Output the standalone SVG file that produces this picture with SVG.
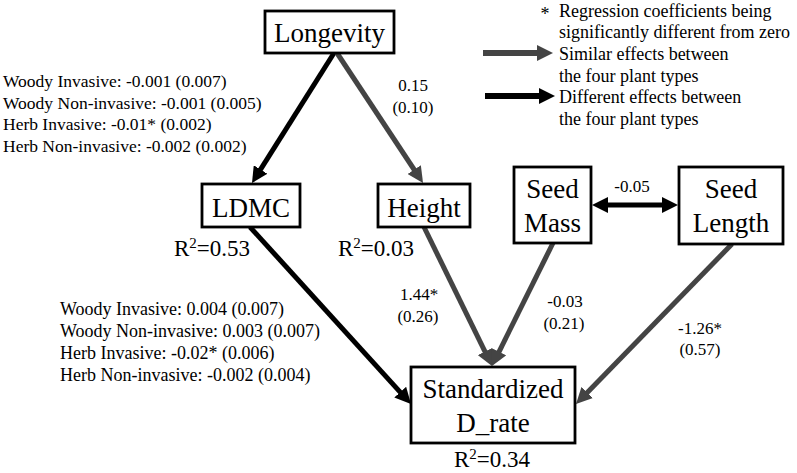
<svg xmlns="http://www.w3.org/2000/svg" width="797" height="473" viewBox="0 0 797 473">
<defs>
<style>
text{font-family:"Liberation Serif","Times New Roman",serif;fill:#000}
.node{font-size:27px;text-anchor:middle}
.box{fill:#fff;stroke:#000;stroke-width:2.8}
.lab{font-size:17.5px}
.lab2{font-size:18px}
.num{font-size:17px;text-anchor:middle}
.leg{font-size:18px}
.r2{font-size:23px}
.blk{stroke:#000;stroke-width:5;fill:none}
.gry{stroke:#444;stroke-width:5;fill:none}
</style>
<marker id="hb" viewBox="0 0 16 16" refX="4" refY="8" markerWidth="16" markerHeight="16" markerUnits="userSpaceOnUse" orient="auto-start-reverse"><path d="M0,0 L16,8 L0,16 z" fill="#000"/></marker>
<marker id="hg" viewBox="0 0 16 16" refX="4" refY="8" markerWidth="16" markerHeight="16" markerUnits="userSpaceOnUse" orient="auto"><path d="M0,0 L16,8 L0,16 z" fill="#444"/></marker>
</defs>
<rect width="797" height="473" fill="#fff"/>

<g id="connectors">
<line class="blk" x1="334" y1="53" x2="258.4" y2="172.9" marker-end="url(#hb)"/>
<line class="gry" x1="337" y1="53" x2="416.4" y2="173" marker-end="url(#hg)"/>
<line class="blk" x1="250" y1="227" x2="402.9" y2="395.1" marker-end="url(#hb)"/>
<line class="gry" x1="424" y1="227" x2="486.7" y2="355.2" marker-end="url(#hg)"/>
<line class="gry" x1="553" y1="243" x2="497.3" y2="355.3" marker-end="url(#hg)"/>
<line class="gry" x1="732" y1="244" x2="584.4" y2="395.4" marker-end="url(#hg)"/>
<line class="blk" x1="604" y1="205" x2="666" y2="205" marker-start="url(#hb)" marker-end="url(#hb)"/>
</g>

<g id="legend">
<text class="leg" x="545" y="20" text-anchor="middle">*</text>
<text class="leg" x="559" y="17">Regression coefficients being</text>
<text class="leg" x="559" y="38">significantly different from zero</text>
<line class="gry" x1="483" y1="53" x2="541" y2="53" marker-end="url(#hg)" style="stroke-width:6"/>
<text class="leg" x="559" y="60">Similar effects between</text>
<text class="leg" x="559" y="82">the four plant types</text>
<line class="blk" x1="485" y1="96" x2="543" y2="96" marker-end="url(#hb)" style="stroke-width:6"/>
<text class="leg" x="559" y="103">Different effects between</text>
<text class="leg" x="559" y="125">the four plant types</text>
</g>

<g id="node-longevity">
<rect class="box" x="265" y="11" width="129" height="42"/>
<text class="node" x="329.5" y="42">Longevity</text>
</g>

<g id="node-ldmc">
<rect class="box" x="202" y="184" width="98" height="43"/>
<text class="node" x="251" y="217">LDMC</text>
<text class="r2" x="174" y="256">R<tspan font-size="15" dy="-8">2</tspan><tspan dy="8">=0.53</tspan></text>
</g>

<g id="node-height">
<rect class="box" x="378" y="184" width="92" height="43"/>
<text class="node" x="424" y="217">Height</text>
<text class="r2" x="338" y="256">R<tspan font-size="15" dy="-8">2</tspan><tspan dy="8">=0.03</tspan></text>
</g>

<g id="node-seedmass">
<rect class="box" x="514" y="167" width="77" height="76"/>
<text class="node" x="552.5" y="198">Seed</text>
<text class="node" x="552.5" y="232">Mass</text>
</g>

<g id="node-seedlength">
<rect class="box" x="679" y="167" width="104" height="77"/>
<text class="node" x="731" y="198">Seed</text>
<text class="node" x="731" y="232">Length</text>
</g>

<g id="node-drate">
<rect class="box" x="411" y="367" width="164" height="76"/>
<text class="node" x="493" y="398">Standardized</text>
<text class="node" x="493" y="432">D_rate</text>
<text class="r2" x="492" y="467" text-anchor="middle">R<tspan font-size="15" dy="-8">2</tspan><tspan dy="8">=0.34</tspan></text>
</g>

<g id="labels">
<text class="lab" x="3" y="87">Woody Invasive: -0.001 (0.007)</text>
<text class="lab" x="3" y="109">Woody Non-invasive: -0.001 (0.005)</text>
<text class="lab" x="3" y="130">Herb Invasive: -0.01* (0.002)</text>
<text class="lab" x="3" y="152">Herb Non-invasive: -0.002 (0.002)</text>
<text class="num" x="413" y="91">0.15</text>
<text class="num" x="413" y="113">(0.10)</text>
<text class="num" x="632" y="192">-0.05</text>
<text class="num" x="419" y="300">1.44*</text>
<text class="num" x="418" y="322">(0.26)</text>
<text class="num" x="565" y="307">-0.03</text>
<text class="num" x="564" y="329">(0.21)</text>
<text class="num" x="700" y="334">-1.26*</text>
<text class="num" x="700" y="355">(0.57)</text>
<text class="lab2" x="60" y="315">Woody Invasive: 0.004 (0.007)</text>
<text class="lab2" x="60" y="337">Woody Non-invasive: 0.003 (0.007)</text>
<text class="lab2" x="60" y="359">Herb Invasive: -0.02* (0.006)</text>
<text class="lab2" x="60" y="381">Herb Non-invasive: -0.002 (0.004)</text>
</g>
</svg>
